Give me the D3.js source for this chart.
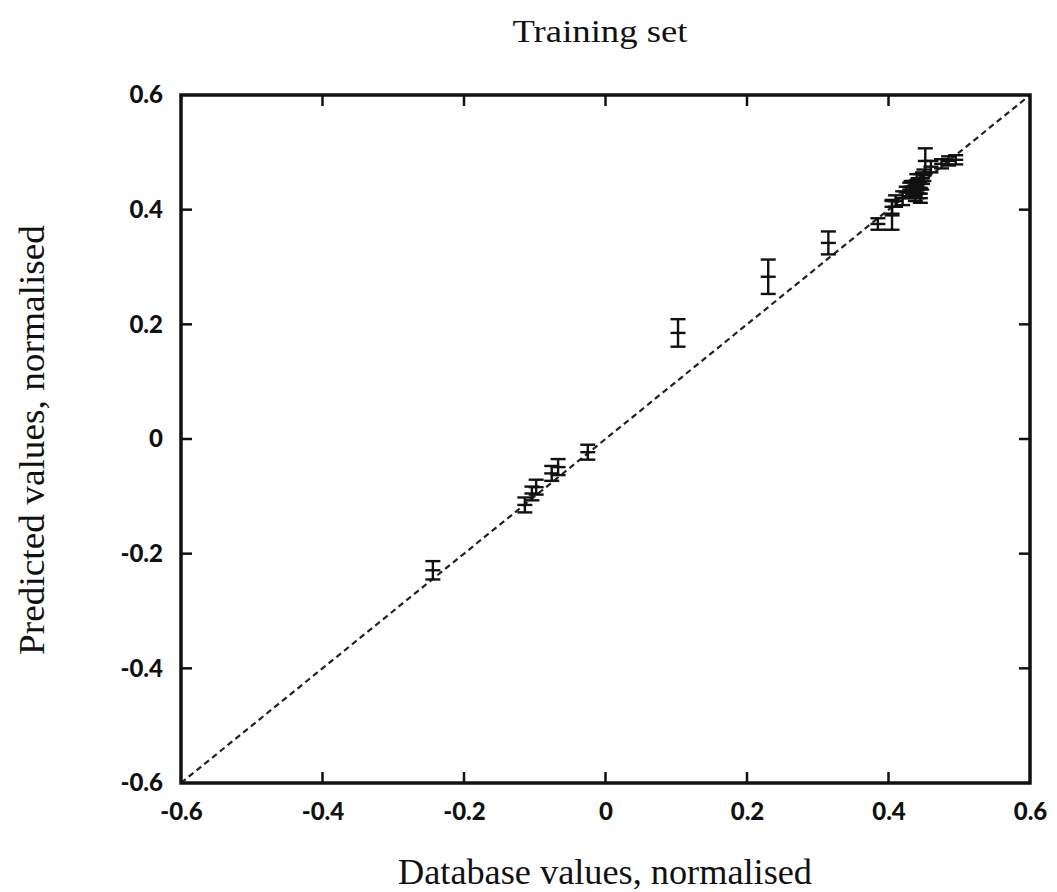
<!DOCTYPE html>
<html>
<head>
<meta charset="utf-8">
<script src="https://cdn.jsdelivr.net/npm/d3@7"></script>
<style>
  body { margin: 0; background: #fff; }
  svg { display: block; }
</style>
</head>
<body>
<svg id="chart" width="1057" height="892"></svg>
<script>
// Data: database value (x), predicted value (y), error half-width (e)
const xValues = [-0.244, -0.114, -0.104, -0.098, -0.076, -0.067, -0.025, 0.1025, 0.230, 0.315, 0.385, 0.405,
                 0.405, 0.41, 0.42, 0.425, 0.43, 0.435, 0.438, 0.44, 0.442, 0.445, 0.445, 0.448, 0.45, 0.452, 0.46, 0.475, 0.485, 0.495,
                 0.432, 0.437, 0.443, 0.447, 0.44];
const yValues = [-0.229, -0.115, -0.095, -0.084, -0.060, -0.049, -0.023, 0.185, 0.283, 0.342, 0.375, 0.39,
                 0.405, 0.415, 0.42, 0.43, 0.435, 0.44, 0.425, 0.43, 0.445, 0.45, 0.42, 0.455, 0.46, 0.485, 0.475, 0.48, 0.485, 0.487,
                 0.44, 0.432, 0.438, 0.445, 0.452];
const errValues = [0.016, 0.013, 0.012, 0.013, 0.013, 0.014, 0.013, 0.024, 0.030, 0.020, 0.010, 0.025,
                   0.012, 0.010, 0.012, 0.010, 0.012, 0.010, 0.010, 0.010, 0.010, 0.012, 0.008, 0.010, 0.010, 0.022, 0.010, 0.008, 0.008, 0.008,
                   0.010, 0.010, 0.010, 0.010, 0.010];
const tickValues = [-0.6, -0.4, -0.2, 0, 0.2, 0.4, 0.6];
const tickLabels = ["-0.6", "-0.4", "-0.2", "0", "0.2", "0.4", "0.6"];
const title = "Training set";
const xTitle = "Database values, normalised";
const yTitle = "Predicted values, normalised";

(function () {
const points = xValues.map((x, i) => ({x, y: yValues[i], e: errValues[i]}));

const svg = d3.select("#chart");
const pL = 181, pR = 1030, pT = 95, pB = 783;
const x = d3.scaleLinear().domain([-0.6, 0.6]).range([pL, pR]);
const y = d3.scaleLinear().domain([-0.6, 0.6]).range([pB, pT]);
const ink = "#111";
const tickFmt = d => tickLabels[tickValues.indexOf(d)];
const inner = tickValues.filter(d => d > -0.6 && d < 0.6);

// Axes with inward ticks
const axB = svg.append("g").attr("transform", `translate(0,${pB})`)
  .call(d3.axisBottom(x).tickValues(tickValues).tickFormat(tickFmt).tickSize(0).tickPadding(20));
const axL = svg.append("g").attr("transform", `translate(${pL},0)`)
  .call(d3.axisLeft(y).tickValues(tickValues).tickFormat(tickFmt).tickSize(0).tickPadding(18));
[axB, axL].forEach(a => {
  a.select(".domain").remove();
  a.selectAll("text").attr("font-family", "Lato, 'Open Sans', sans-serif")
    .attr("font-weight", 900).attr("font-size", 24).attr("fill", ink);
});
axB.selectAll("text").attr("dy", "0.71em");

const tickLen = 11;
const ticks = svg.append("g").attr("stroke", ink).attr("stroke-width", 2.5);
inner.forEach(v => {
  ticks.append("line").attr("x1", x(v)).attr("x2", x(v)).attr("y1", pB).attr("y2", pB - tickLen);
  ticks.append("line").attr("x1", x(v)).attr("x2", x(v)).attr("y1", pT).attr("y2", pT + tickLen);
  ticks.append("line").attr("x1", pL).attr("x2", pL + tickLen).attr("y1", y(v)).attr("y2", y(v));
  ticks.append("line").attr("x1", pR).attr("x2", pR - tickLen).attr("y1", y(v)).attr("y2", y(v));
});

// Diagonal y = x
svg.append("line")
  .attr("x1", x(-0.6)).attr("y1", y(-0.6)).attr("x2", x(0.6)).attr("y2", y(0.6))
  .attr("stroke", "#2a1f18").attr("stroke-width", 2.2).attr("stroke-dasharray", "6,4");

// Error bars
const cap = 7.5;
const g = svg.append("g").attr("stroke", ink).attr("stroke-width", 2.4).attr("fill", "none");
points.forEach(p => {
  const cx = x(p.x), cy = y(p.y), t = y(p.y + p.e), b = y(p.y - p.e);
  g.append("line").attr("x1", cx).attr("x2", cx).attr("y1", t).attr("y2", b);
  g.append("line").attr("x1", cx - cap).attr("x2", cx + cap).attr("y1", t).attr("y2", t);
  g.append("line").attr("x1", cx - cap).attr("x2", cx + cap).attr("y1", b).attr("y2", b);
  g.append("line").attr("x1", cx - cap).attr("x2", cx + cap).attr("y1", cy).attr("y2", cy);
});

// Frame
svg.append("rect").attr("x", pL).attr("y", pT).attr("width", pR - pL).attr("height", pB - pT)
  .attr("fill", "none").attr("stroke", ink).attr("stroke-width", 3.5);

// Titles
const serif = "'Liberation Serif', 'Times New Roman', serif";
svg.append("text").attr("x", 600).attr("y", 42).attr("text-anchor", "middle")
  .attr("font-family", serif).attr("font-size", 31).attr("fill", ink)
  .attr("textLength", 175).attr("lengthAdjust", "spacingAndGlyphs").text(title);
svg.append("text").attr("x", 605).attr("y", 884).attr("text-anchor", "middle")
  .attr("font-family", serif).attr("font-size", 36).attr("fill", ink)
  .attr("textLength", 414).attr("lengthAdjust", "spacingAndGlyphs").text(xTitle);
svg.append("text").attr("transform", "translate(44,440) rotate(-90)").attr("text-anchor", "middle")
  .attr("font-family", serif).attr("font-size", 36).attr("fill", ink)
  .attr("textLength", 430).attr("lengthAdjust", "spacingAndGlyphs").text(yTitle);
})();
</script>
</body>
</html>
